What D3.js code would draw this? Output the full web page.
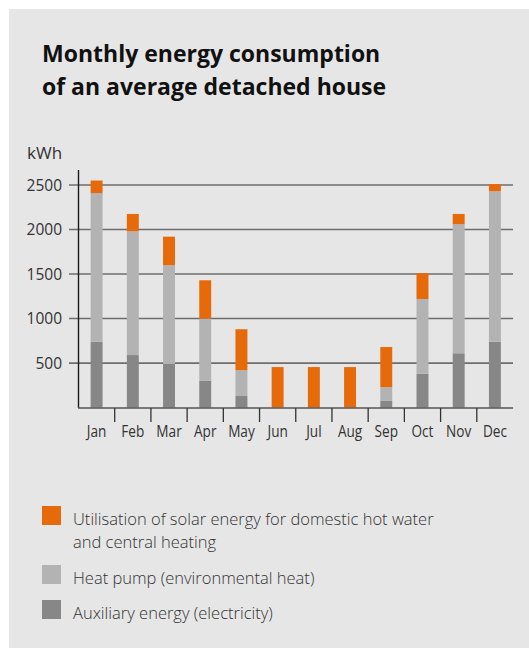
<!DOCTYPE html>
<html>
<head>
<meta charset="utf-8">
<script src="https://cdn.jsdelivr.net/npm/d3@7"></script>
<style>
  body { margin: 0; background: #fff; }
  text { font-family: "Open Sans", sans-serif; }
</style>
</head>
<body>
<div id="chart"></div>
<script>
const width = 529;
const height = 648;

// Data (kWh per month, stacked from the bottom)
const months = ["Jan", "Feb", "Mar", "Apr", "May", "Jun", "Jul", "Aug", "Sep", "Oct", "Nov", "Dec"];
const auxiliary = [740, 590, 490, 300, 130, 0, 0, 0, 75, 380, 610, 740];
const heatPump = [1670, 1390, 1110, 700, 290, 0, 0, 0, 155, 840, 1450, 1690];
const solar = [140, 195, 320, 430, 460, 455, 455, 455, 450, 290, 115, 80];
const yTicks = [500, 1000, 1500, 2000, 2500];

const seriesKeys = ["auxiliary", "heatPump", "solar"];
const colors = { auxiliary: "#878787", heatPump: "#b3b3b3", solar: "#e6690a" };
const legendItems = [
  { key: "solar", lines: ["Utilisation of solar energy for domestic hot water", "and central heating"] },
  { key: "heatPump", lines: ["Heat pump (environmental heat)"] },
  { key: "auxiliary", lines: ["Auxiliary energy (electricity)"] }
];

const table = months.map((m, i) => ({ month: m, auxiliary: auxiliary[i], heatPump: heatPump[i], solar: solar[i] }));
const stacked = d3.stack().keys(seriesKeys)(table);

const svg = d3.select("#chart").append("svg")
  .attr("width", width)
  .attr("height", height);

// panel background
svg.append("rect")
  .attr("x", 9).attr("y", 9)
  .attr("width", width - 9).attr("height", height - 9)
  .attr("fill", "#e6e6e6");

// title
svg.append("text")
  .attr("x", 42).attr("y", 62)
  .attr("font-size", 23).attr("font-weight", 700).attr("fill", "#111")
  .text("Monthly energy consumption");
svg.append("text")
  .attr("x", 42).attr("y", 95)
  .attr("font-size", 23).attr("font-weight", 700).attr("fill", "#111")
  .text("of an average detached house");

const x = d3.scaleBand().domain(months).range([78.5, 513]).paddingInner(0.67).paddingOuter(0.335);
const y = d3.scaleLinear().domain([0, 2500]).range([407.6, 185]);

const xb = d3.scaleBand().domain(months).range([78.5, 513]);

// gridlines
svg.append("g")
  .selectAll("line")
  .data(yTicks)
  .join("line")
  .attr("x1", 69).attr("x2", 513)
  .attr("y1", d => y(d)).attr("y2", d => y(d))
  .attr("stroke", "#6e6e6e").attr("stroke-width", 1.6);

// y tick labels
svg.append("g")
  .selectAll("text")
  .data(yTicks)
  .join("text")
  .attr("x", 62).attr("y", d => y(d) + 5.5)
  .attr("text-anchor", "end")
  .attr("font-size", 15.5).attr("fill", "#333")
  .text(d => d);

svg.append("text")
  .attr("x", 27).attr("y", 159)
  .attr("font-size", 17).attr("fill", "#333")
  .text("kWh");

// bars
svg.append("g")
  .selectAll("g")
  .data(stacked)
  .join("g")
  .attr("fill", d => colors[d.key])
  .selectAll("rect")
  .data(d => d)
  .join("rect")
  .attr("x", d => x(d.data.month))
  .attr("width", x.bandwidth())
  .attr("y", d => y(d[1]))
  .attr("height", d => y(d[0]) - y(d[1]));

// axes lines
svg.append("line")
  .attr("x1", 78.5).attr("x2", 78.5).attr("y1", 170).attr("y2", 408)
  .attr("stroke", "#1a1a1a").attr("stroke-width", 1.4);
svg.append("line")
  .attr("x1", 78).attr("x2", 513).attr("y1", 408).attr("y2", 408)
  .attr("stroke", "#555").attr("stroke-width", 1.6);

// x ticks between months
svg.append("g")
  .selectAll("line")
  .data(months.slice(1))
  .join("line")
  .attr("x1", d => xb(d)).attr("x2", d => xb(d))
  .attr("y1", 408).attr("y2", 422)
  .attr("stroke", "#333").attr("stroke-width", 1.3);

// month labels
svg.append("g")
  .selectAll("text")
  .data(months)
  .join("text")
  .attr("transform", d => `translate(${x(d) + x.bandwidth() / 2},437) scale(0.85,1)`)
  .attr("text-anchor", "middle")
  .attr("font-size", 16).attr("fill", "#333")
  .text(d => d);

// legend
const legendTop = [506, 565, 600];
const legend = svg.append("g")
  .selectAll("g")
  .data(legendItems)
  .join("g")
  .attr("transform", (d, i) => `translate(42,${legendTop[i]})`);

legend.append("rect")
  .attr("width", 19).attr("height", 19)
  .attr("fill", d => colors[d.key]);

legend.each(function(d) {
  d3.select(this).selectAll("text")
    .data(d.lines)
    .join("text")
    .attr("x", 31)
    .attr("y", (l, j) => 18.5 + j * 23.5)
    .attr("font-size", 16.5).attr("font-weight", 300).attr("fill", "#333")
    .text(l => l);
});
</script>
</body>
</html>
